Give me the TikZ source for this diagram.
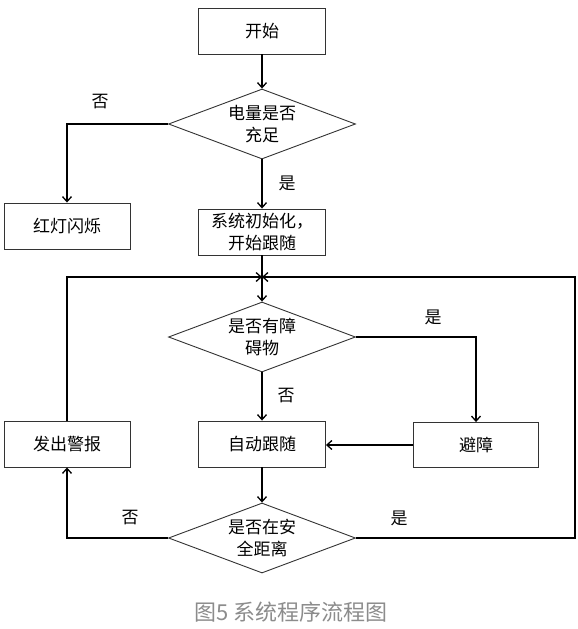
\documentclass[tikz,border=0pt]{standalone}
\usepackage{fontspec}
\setmainfont{Noto Sans CJK SC}
\usetikzlibrary{shapes.geometric,arrows.meta}
\definecolor{capgray}{RGB}{140,140,140}
\begin{document}
\begin{tikzpicture}
    [x=1pt,y=-1pt,
     font=\fontsize{17}{22}\selectfont,
     proc/.style={draw=black!80,line width=0.9pt,minimum width=127pt,minimum height=46pt,inner sep=0pt,align=center},
     test/.style={draw=black!80,line width=0.9pt,diamond,aspect=2.67,minimum width=187pt,minimum height=70pt,inner sep=0pt,align=center},
     flow/.style={line width=1.3pt,-{Straight Barb[length=5pt,width=9pt]}},
     plain/.style={line width=1.3pt}]
    \useasboundingbox (0,0) rectangle (578,629);
    \node[proc] (start) at (262,31) {开始};
    \node[test] (charge) at (262,124) {电量是否\\充足};
    \node[proc,minimum width=126pt] (redlight) at (67,226) {红灯闪烁};
    \node[proc] (init) at (262,232) {系统初始化，\\开始跟随};
    \coordinate (join) at (262,277);
    \node[test] (obstacle) at (262,337) {是否有障\\碍物};
    \node[proc] (follow) at (262,444) {自动跟随};
    \node[proc,minimum width=125pt,minimum height=45pt] (avoid) at (476,445) {避障};
    \node[proc,minimum width=126pt] (alarm) at (67,444) {发出警报};
    \node[test] (safe) at (262,538) {是否在安\\全距离};
    \coordinate (loop) at (575,277);
    \node (no1) at (100,102) {否};
    \node (yes1) at (287,183) {是};
    \node (yes2) at (433,317) {是};
    \node (no2) at (286,396) {否};
    \node (no3) at (130,518) {否};
    \node (yes3) at (399,518) {是};
    \draw[flow] (start) -- (charge);
    \draw[flow] (charge.west) -| (redlight.north);
    \draw[flow] (charge) -- (init);
    \draw[plain] (init) -- (join);
    \draw[flow] (join) -- (obstacle);
    \draw[flow] (obstacle.east) -| (avoid.north);
    \draw[flow] (obstacle) -- (follow);
    \draw[flow] (avoid.west) -- (avoid.west -| follow.east);
    \draw[flow] (follow) -- (safe);
    \draw[flow] (safe.west) -| (alarm.south);
    \draw[flow] (alarm.north) |- (join);
    \draw[flow] (safe.east) -| (loop) -- (join);
    \node[text=capgray,font=\fontsize{22}{26}\selectfont] (caption) at (291,612) {图5 系统程序流程图};
\end{tikzpicture}
\end{document}
